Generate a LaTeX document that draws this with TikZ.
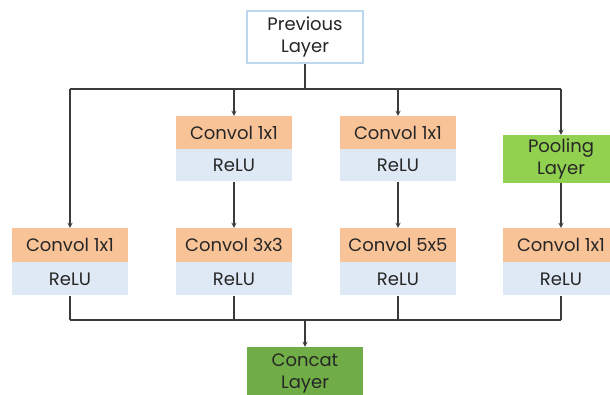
\documentclass[tikz,border=0pt]{standalone}
\usepackage{fontspec}
\setmainfont{Poppins}
\usetikzlibrary{positioning}

\definecolor{convorange}{HTML}{F9C398}
\definecolor{relublue}{HTML}{DEE9F5}
\definecolor{poolgreen}{HTML}{92D050}
\definecolor{concatgreen}{HTML}{70AD47}
\definecolor{prevborder}{HTML}{BDD7EE}
\definecolor{linegray}{HTML}{3A3A3A}
\definecolor{textgray}{HTML}{262626}

\tikzset{
  block/.style={minimum width=116pt, inner sep=0pt, align=center,
    font=\fontsize{18}{22}\selectfont, text=textgray},
  convbox/.style={block, fill=convorange, minimum height=34pt},
  relubox/.style={block, fill=relublue, minimum height=33pt},
  link/.style={draw=linegray, line width=1.2pt},
}

\begin{document}
\begin{tikzpicture}[x=1pt, y=1pt, >=stealth]
  \useasboundingbox (0,0) rectangle (610,394);

  \node[block, draw=prevborder, line width=1.2pt, fill=white, minimum height=52pt] (prev) at (305,357) {Previous\\Layer};

  \coordinate (busL) at (70,305);
  \coordinate (busR) at (561,305);
  \coordinate (botL) at (70,74);
  \coordinate (botR) at (561,74);

  % middle row
  \node[convbox, minimum height=33pt] (conv2a) at (234,261.5) {Convol 1x1};
  \node[relubox, minimum height=32pt, below=0pt of conv2a] (relu2a) {ReLU};
  \node[convbox, minimum height=33pt] (conv3a) at (398,261.5) {Convol 1x1};
  \node[relubox, minimum height=32pt, below=0pt of conv3a] (relu3a) {ReLU};
  \node[block, fill=poolgreen, minimum height=48pt] (pool) at (561,235) {Pooling\\Layer};

  % bottom row
  \node[convbox] (conv1) at (70,149) {Convol 1x1};
  \node[relubox, below=0pt of conv1] (relu1) {ReLU};
  \node[convbox] (conv2b) at (234,149) {Convol 3x3};
  \node[relubox, below=0pt of conv2b] (relu2b) {ReLU};
  \node[convbox] (conv3b) at (398,149) {Convol 5x5};
  \node[relubox, below=0pt of conv3b] (relu3b) {ReLU};
  \node[convbox] (conv4) at (561,149) {Convol 1x1};
  \node[relubox, below=0pt of conv4] (relu4) {ReLU};

  \node[block, fill=concatgreen, minimum height=52pt] (concat) at (305,21) {Concat\\Layer};

  \path[link] (prev) -- (prev |- busL);
  \path[link] (busL) -- (busR);
  \path[link, ->] (busL) -- (conv1);
  \path[link, ->] (conv2a |- busL) -- (conv2a);
  \path[link, ->] (conv3a |- busL) -- (conv3a);
  \path[link, ->] (busR) -- (pool);

  \path[link, ->] (relu2a) -- (conv2b);
  \path[link, ->] (relu3a) -- (conv3b);
  \path[link, ->] (pool) -- (conv4);

  \path[link] (relu1) -- (botL);
  \path[link] (relu2b) -- (relu2b |- botL);
  \path[link] (relu3b) -- (relu3b |- botL);
  \path[link] (relu4) -- (botR);
  \path[link] (botL) -- (botR);
  \path[link, ->] (concat |- botL) -- (concat);

\end{tikzpicture}
\end{document}
